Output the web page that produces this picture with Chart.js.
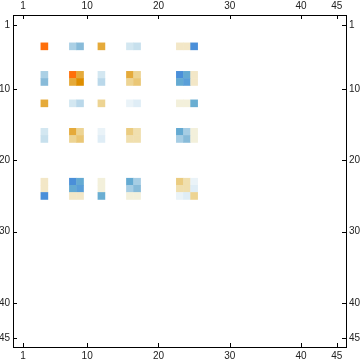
<!DOCTYPE html>
<html>
<head>
<meta charset="utf-8">
<script src="https://cdn.jsdelivr.net/npm/chart.js@4"></script>
<style>
  body { margin: 0; background: #fff; }
  canvas { display: block; }
</style>
</head>
<body>
<canvas id="myChart" width="360" height="363"></canvas>
<script>
// rows / columns of the matrix that hold non-zero entries (1-based)
const rowIndex = [4, 8, 9, 12, 16, 17, 23, 24, 25];
const colIndex = [4, 8, 9, 12, 16, 17, 23, 24, 25];

// values, one array per row above
const values = [
  [1.0, -0.35, -0.5, 0.7, -0.2, -0.27, 0.22, 0.22, -0.9],
  [-0.35, 1.0, 0.7, -0.2, 0.7, 0.45, -0.9, -0.7, 0.22],
  [-0.5, 0.7, 0.85, -0.3, 0.45, 0.55, -0.7, -0.8, 0.22],
  [0.7, -0.2, -0.3, 0.45, -0.1, -0.15, 0.15, 0.15, -0.65],
  [-0.2, 0.7, 0.45, -0.1, 0.5, 0.35, -0.7, -0.4, 0.15],
  [-0.27, 0.45, 0.55, -0.15, 0.35, 0.35, -0.4, -0.5, 0.15],
  [0.22, -0.9, -0.7, 0.15, -0.7, -0.4, 0.5, 0.35, -0.1],
  [0.22, -0.7, -0.8, 0.15, -0.4, -0.5, 0.35, 0.35, -0.15],
  [-0.9, 0.22, 0.22, -0.65, 0.15, 0.15, -0.1, -0.15, 0.45],
];

const tickValues = [1, 10, 20, 30, 40, 45];

// colour scale: value -> colour
const colorStops = [
  [-0.9, "#4a8fd9"], [-0.8, "#5a9fd8"], [-0.7, "#64aad2"], [-0.65, "#6aaed2"],
  [-0.5, "#88bbd9"], [-0.4, "#a6cde4"], [-0.35, "#abd0e5"], [-0.3, "#bad8ea"],
  [-0.27, "#c7e0ed"], [-0.2, "#d3e7f1"], [-0.15, "#dfedf6"], [-0.1, "#eaf3f8"],
  [0, "#ffffff"],
  [0.15, "#f3f0db"], [0.22, "#f3e7c7"], [0.35, "#f0dfae"], [0.45, "#edd493"],
  [0.5, "#ebcc80"], [0.55, "#eac776"], [0.7, "#e5aa3a"], [0.85, "#de8e00"],
  [1.0, "#ff6f0a"],
];

function hexToRgb(h) {
  return [1, 3, 5].map((i) => parseInt(h.slice(i, i + 2), 16));
}

function cellColor(v) {
  if (v <= colorStops[0][0]) return colorStops[0][1];
  for (let i = 1; i < colorStops.length; i++) {
    const [v1, c1] = colorStops[i];
    if (v <= v1) {
      const [v0, c0] = colorStops[i - 1];
      const t = (v - v0) / (v1 - v0);
      const a = hexToRgb(c0), b = hexToRgb(c1);
      const m = a.map((x, k) => Math.round(x + (b[k] - x) * t));
      return `rgb(${m[0]},${m[1]},${m[2]})`;
    }
  }
  return colorStops[colorStops.length - 1][1];
}

let cells = [];
rowIndex.forEach((r, i) => {
  colIndex.forEach((c, j) => {
    cells.push({ x: c, y: r, v: values[i][j] });
  });
});

function cellRadius(ctx) {
  const s = ctx.chart.scales.x;
  const w = Math.abs(s.getPixelForValue(1) - s.getPixelForValue(0));
  return (w + 0.5) / Math.SQRT2;
}

// short inward tick marks on all four sides, like the reference frame
const tickMarks = {
  id: "tickMarks",
  afterDraw(chart) {
    const { ctx, chartArea: a, scales } = chart;
    ctx.save();
    ctx.strokeStyle = "#000";
    ctx.lineWidth = 1;
    ctx.beginPath();
    tickValues.forEach((v) => {
      const x = Math.round(scales.x.getPixelForValue(v)) + 0.5;
      ctx.moveTo(x, a.bottom);
      ctx.lineTo(x, a.bottom - 4);
      ctx.moveTo(x, a.top);
      ctx.lineTo(x, a.top + 4);
      const y = Math.round(scales.y.getPixelForValue(v)) + 0.5;
      ctx.moveTo(a.left, y);
      ctx.lineTo(a.left + 4, y);
      ctx.moveTo(a.right, y);
      ctx.lineTo(a.right - 4, y);
    });
    ctx.stroke();
    ctx.restore();
  },
};

function axis(position, min, max, size, extra) {
  const horizontal = position === "top" || position === "bottom";
  return Object.assign(
    {
      type: "linear",
      position: position,
      min: min,
      max: max,
      afterBuildTicks: (scale) => {
        scale.ticks = tickValues.map((v) => ({ value: v }));
      },
      afterFit: (scale) => {
        if (horizontal) scale.height = size;
        else scale.width = size;
      },
      grid: { display: false, drawTicks: false },
      border: { display: true, color: "#000", width: 1 },
      ticks: {
        autoSkip: false,
        maxRotation: 0,
        padding: 3,
        color: "#222",
        font: { family: "Liberation Sans", size: 10 },
      },
    },
    extra || {}
  );
}

const ctx = document.getElementById("myChart");
new Chart(ctx, {
  type: "scatter",
  data: {
    datasets: [
      {
        data: cells,
        pointStyle: "rect",
        borderWidth: 0,
        backgroundColor: (c) => cellColor(c.raw.v),
        pointRadius: cellRadius,
        pointHoverRadius: cellRadius,
      },
    ],
  },
  options: {
    responsive: false,
    animation: false,
    events: [],
    layout: { padding: 0 },
    plugins: {
      legend: { display: false },
      tooltip: { enabled: false },
    },
    scales: {
      x: axis("bottom", -0.4, 46.3, 16),
      x2: axis("top", -0.4, 46.3, 15),
      y: axis("left", -0.4, 46.2, 13, { reverse: true }),
      y2: axis("right", -0.4, 46.2, 14, { reverse: true }),
    },
  },
  plugins: [tickMarks],
});
</script>
</body>
</html>
